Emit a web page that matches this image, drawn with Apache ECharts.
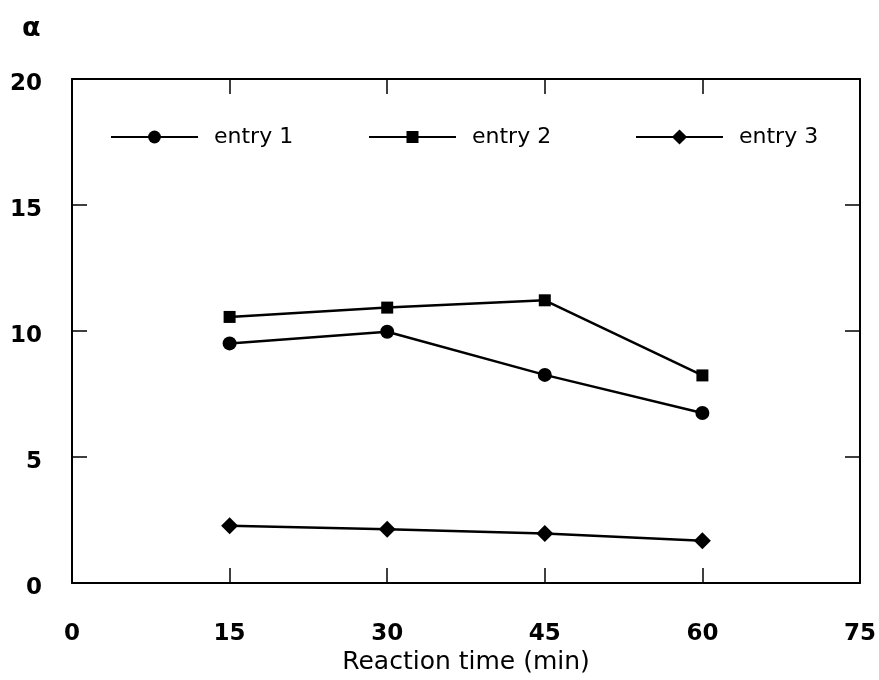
<!DOCTYPE html>
<html>
<head>
<meta charset="utf-8">
<script src="https://cdn.jsdelivr.net/npm/echarts@6/dist/echarts.min.js"></script>
<style>
html,body{margin:0;padding:0;background:#fff;}
#chart{width:879px;height:680px;}
</style>
</head>
<body>
<div id="chart"></div>
<script>
// Data
const seriesNames = ['entry 1', 'entry 2', 'entry 3'];
const reactionTime = [15, 30, 45, 60];
const entry1 = [9.51, 9.97, 8.26, 6.75];
const entry2 = [10.56, 10.93, 11.22, 8.24];
const entry3 = [2.28, 2.14, 1.97, 1.68];
const xTickLabels = [0, 15, 30, 45, 60, 75];
const yTickLabels = [0, 5, 10, 15, 20];
const xAxisTitle = 'Reaction time (min)';
const yAxisTitle = 'α';

const FONT = 'DejaVu Sans';
const chart = echarts.init(document.getElementById('chart'), null, {renderer: 'canvas'});

const xMin = xTickLabels[0], xMax = xTickLabels[xTickLabels.length - 1];
const xStep = xTickLabels[1] - xTickLabels[0];
const yMin = yTickLabels[0], yMax = yTickLabels[yTickLabels.length - 1];
const yStep = yTickLabels[1] - yTickLabels[0];

const axisLineStyle = {color: '#000', width: 2};
const tickStyle = {show: true, inside: true, length: 15, lineStyle: {color: '#000', width: 1.5}};

function pairs(vals) { return reactionTime.map((x, i) => [x, vals[i]]); }

const symbols = ['circle', 'rect', 'diamond'];
const symbolSizes = [14, 12, 17];
const allData = [entry1, entry2, entry3];
const legendLeft = [110, 368, 635];
const legendIconH = [16, 15, 19];

const option = {
  backgroundColor: '#fff',
  animation: false,
  grid: {left: 72, right: 19, top: 79, bottom: 94, containLabel: false},
  graphic: [{
    type: 'text', left: 22, top: 15,
    style: {text: yAxisTitle, fontFamily: FONT, fontSize: 27, fontWeight: 'bold', fill: '#000'}
  }],
  legend: seriesNames.map((n, i) => ({
    data: [n],
    left: legendLeft[i],
    top: 126,
    orient: 'horizontal',
    itemWidth: 87,
    itemHeight: legendIconH[i],
    padding: 0,
    selectedMode: false,
    textStyle: {fontFamily: FONT, fontSize: 22, color: '#000', padding: [0, 0, 0, 11]}
  })),
  xAxis: [{
    type: 'value', position: 'bottom', min: xMin, max: xMax, interval: xStep,
    axisLine: {show: true, onZero: false, lineStyle: axisLineStyle},
    axisTick: tickStyle,
    splitLine: {show: false},
    axisLabel: {fontFamily: FONT, fontSize: 23, fontWeight: 'bold', color: '#000', margin: 39},
    name: xAxisTitle, nameLocation: 'middle', nameGap: 64,
    nameTextStyle: {fontFamily: FONT, fontSize: 25, color: '#000'}
  }, {
    type: 'value', position: 'top', min: xMin, max: xMax, interval: xStep,
    axisLine: {show: true, onZero: false, lineStyle: axisLineStyle},
    axisTick: tickStyle,
    splitLine: {show: false},
    axisLabel: {show: false}
  }],
  yAxis: [{
    type: 'value', position: 'left', min: yMin, max: yMax, interval: yStep,
    axisLine: {show: true, onZero: false, lineStyle: axisLineStyle},
    axisTick: tickStyle,
    splitLine: {show: false},
    axisLabel: {fontFamily: FONT, fontSize: 23, fontWeight: 'bold', color: '#000', margin: 30,
                verticalAlign: 'top', lineHeight: 10}
  }, {
    type: 'value', position: 'right', min: yMin, max: yMax, interval: yStep,
    axisLine: {show: true, onZero: false, lineStyle: axisLineStyle},
    axisTick: tickStyle,
    splitLine: {show: false},
    axisLabel: {show: false}
  }],
  series: seriesNames.map((n, i) => ({
    name: n,
    type: 'line',
    xAxisIndex: 0, yAxisIndex: 0,
    data: pairs(allData[i]),
    symbol: symbols[i],
    symbolSize: symbolSizes[i],
    showSymbol: true,
    color: '#000',
    lineStyle: {color: '#000', width: 2.5},
    itemStyle: {color: '#000', borderWidth: 0}
  }))
};
chart.setOption(option);
</script>
</body>
</html>
